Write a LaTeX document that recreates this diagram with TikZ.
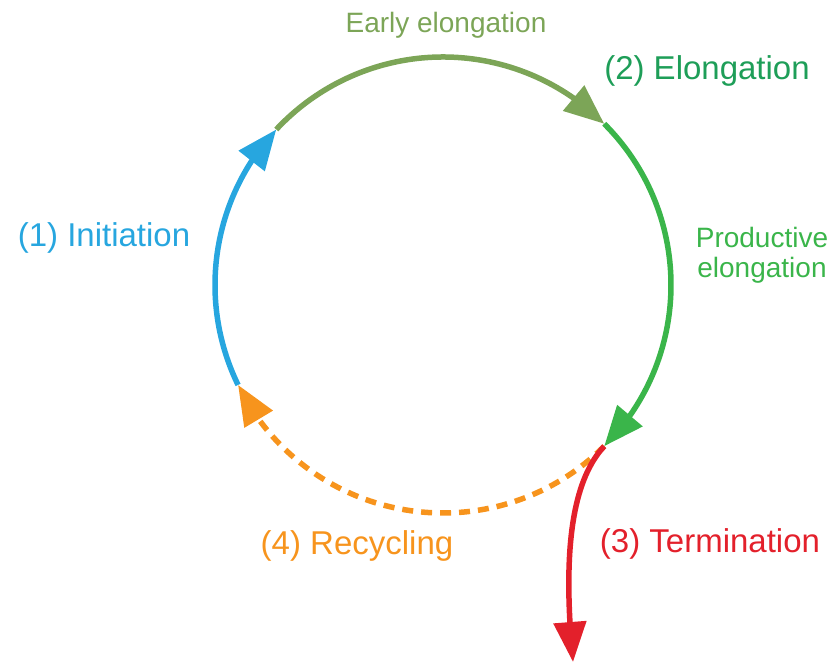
\documentclass[tikz,border=0pt]{standalone}
\usepackage{fontspec}
\setmainfont{Liberation Sans}
\usetikzlibrary{arrows.meta,bending}
\definecolor{cblue}{HTML}{27A6DF}
\definecolor{colive}{HTML}{7CA557}
\definecolor{cgreen}{HTML}{3AB54A}
\definecolor{cdgreen}{HTML}{1E9E58}
\definecolor{cred}{HTML}{E3202B}
\definecolor{corange}{HTML}{F7941D}
\begin{document}
\begin{tikzpicture}[x=1pt,y=1pt,
  conn/.style={line width=5.5pt, -{Triangle[length=40pt,width=32pt]}},
  biglabel/.style={font=\fontsize{33}{40}\selectfont, anchor=base, inner sep=0pt},
  smalllabel/.style={font=\fontsize{28}{33}\selectfont, anchor=base, inner sep=0pt}]
\useasboundingbox (0,0) rectangle (831,668);
\coordinate (c) at (443,383);
\coordinate (p1) at ([shift={(206:228)}]c);
\coordinate (p2) at ([shift={(137:228)}]c);
\coordinate (p3) at ([shift={(45:228)}]c);
\coordinate (p4) at ([shift={(-45:228)}]c);
\coordinate (tend) at (573,6);
% arcs
\draw[conn, cblue] (p1) arc[start angle=206, end angle=137, radius=228];
\draw[conn, colive] (p2) arc[start angle=137, end angle=45, radius=228];
\draw[conn, cgreen] (p3) arc[start angle=45, end angle=-45, radius=228];
\draw[conn, corange, dash pattern=on 11pt off 8pt] (p4) arc[start angle=-45, end angle=-154, radius=228];
\draw[conn, cred] (p4) .. controls (570,185) and (563,110) .. (tend);
% labels
\node[smalllabel, text=colive] (early) at (446,635) {Early elongation};
\node[biglabel, text=cdgreen] (elong) at (707,588) {(2) Elongation};
\node[smalllabel, text=cgreen] (prod1) at (762,420) {Productive};
\node[smalllabel, text=cgreen] (prod2) at (762,390) {elongation};
\node[biglabel, text=cblue] (init) at (104,421) {(1) Initiation};
\node[biglabel, text=corange] (recyc) at (357,113) {(4) Recycling};
\node[biglabel, text=cred] (term) at (710,115) {(3) Termination};
\end{tikzpicture}
\end{document}
